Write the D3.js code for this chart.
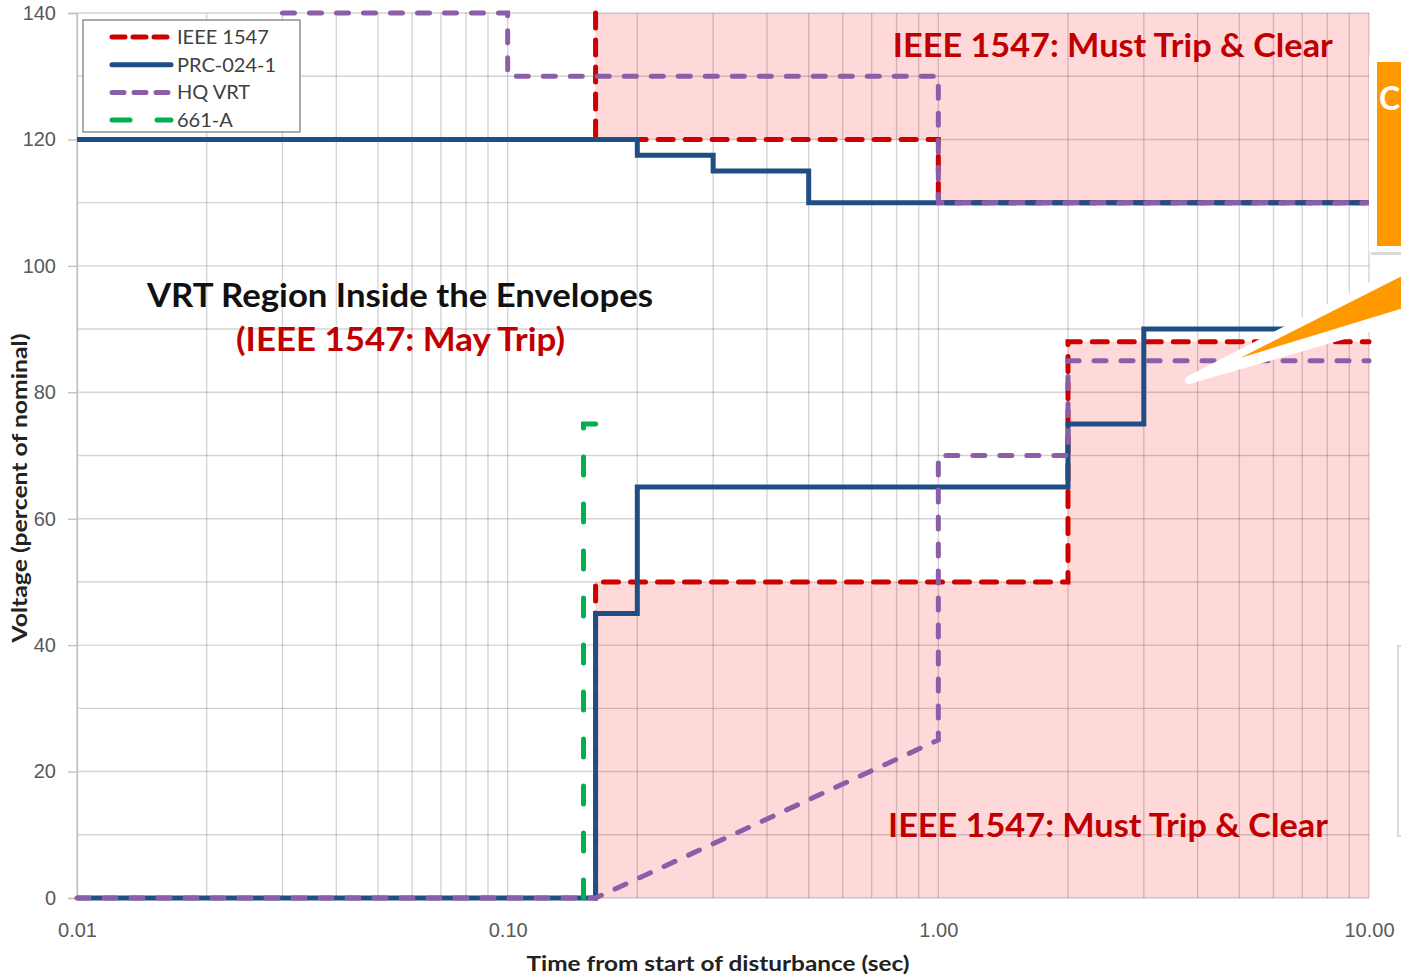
<!DOCTYPE html>
<html>
<head>
<meta charset="utf-8">
<script src="https://cdn.jsdelivr.net/npm/d3@7"></script>
<style>
  body { margin: 0; background: #fff; }
  svg text { font-family: Lato, "Open Sans", sans-serif; }
</style>
</head>
<body>
<div id="chart"></div>
<script>
// --- data (time in sec, voltage in % of nominal) ---
const seriesNames = ["IEEE 1547", "PRC-024-1", "HQ VRT", "661-A"];

const ieeeHighT = [0.16, 0.16, 1, 1, 10];
const ieeeHighV = [140, 120, 120, 110, 110];
const ieeeLowT = [0.16, 0.16, 2, 2, 10];
const ieeeLowV = [0, 50, 50, 88, 88];

const prcHighT = [0.01, 0.2, 0.2, 0.3, 0.3, 0.5, 0.5, 10];
const prcHighV = [120, 120, 117.5, 117.5, 115, 115, 110, 110];
const prcLowT = [0.01, 0.16, 0.16, 0.2, 0.2, 2, 2, 3, 3, 10];
const prcLowV = [0, 0, 45, 45, 65, 65, 75, 75, 90, 90];

const hqHighT = [0.03, 0.1, 0.1, 1, 1, 10];
const hqHighV = [140, 140, 130, 130, 110, 110];
const hqLowT = [0.01, 0.16, 1, 1, 2, 2, 10];
const hqLowV = [0, 0, 25, 70, 70, 85, 85];

const a661T = [0.15, 0.15, 0.16];
const a661V = [0, 75, 75];

const xTickValues = [0.01, 0.1, 1, 10];
const yTickValues = [0, 20, 40, 60, 80, 100, 120, 140];

const zip = (t, v) => t.map((d, i) => [d, v[i]]);

const width = 1401, height = 978;
const svg = d3.select("#chart").append("svg")
  .attr("width", width)
  .attr("height", height);

const x = d3.scaleLog().domain([0.01, 10]).range([77, 1369]);
const y = d3.scaleLinear().domain([0, 140]).range([898, 13]);

// shaded "must trip" zones from the IEEE 1547 envelope
const areaTop = d3.area().x(d => x(d[0])).y0(y(140)).y1(d => y(d[1]));
const areaBottom = d3.area().x(d => x(d[0])).y0(y(0)).y1(d => y(d[1]));
svg.append("path").attr("d", areaTop(zip(ieeeHighT, ieeeHighV))).attr("fill", "#ffd8da");
svg.append("path").attr("d", areaBottom(zip(ieeeLowT, ieeeLowV))).attr("fill", "#ffd8da");

// gridlines
const grid = svg.append("g").attr("stroke", "rgba(0,0,0,0.17)").attr("stroke-width", 1.4);
grid.selectAll("line.h")
  .data(d3.range(0, 141, 10))
  .join("line")
  .attr("x1", x(0.01)).attr("x2", x(10))
  .attr("y1", d => y(d)).attr("y2", d => y(d));
grid.selectAll("line.v")
  .data(x.ticks())
  .join("line")
  .attr("x1", d => x(d)).attr("x2", d => x(d))
  .attr("y1", y(0)).attr("y2", y(140));

// axes
const yAxis = svg.append("g")
  .attr("transform", `translate(${x(0.01)},0)`)
  .call(d3.axisLeft(y).tickValues(yTickValues).tickSize(9).tickPadding(12).tickFormat(d3.format("d")));
yAxis.select(".domain").attr("stroke", "#bfbfbf").attr("stroke-width", 1.3);
yAxis.selectAll(".tick line").attr("stroke", "#bfbfbf").attr("stroke-width", 1.3);
yAxis.selectAll("text").attr("fill", "#595959").style("font-size", "20px")
  .style("font-family", "'Liberation Sans', sans-serif");

const xAxis = svg.append("g")
  .attr("transform", `translate(0,${y(0)})`)
  .call(d3.axisBottom(x).tickValues(xTickValues).tickSize(0).tickPadding(25).tickFormat(d3.format(".2f")));
xAxis.select(".domain").remove();
xAxis.selectAll("text").attr("fill", "#595959").style("font-size", "20px")
  .style("font-family", "'Liberation Sans', sans-serif");

// series lines
const line = d3.line().x(d => x(d[0])).y(d => y(d[1]));
const styles = {
  "IEEE 1547": { color: "#cc0000", dash: "15 12", w: 5 },
  "PRC-024-1": { color: "#1f4e85", dash: null, w: 5 },
  "HQ VRT": { color: "#8a5fa8", dash: "12 15", w: 5 },
  "661-A": { color: "#00b050", dash: "18 29", w: 5 }
};
const seriesData = [
  ["IEEE 1547", [zip(ieeeHighT, ieeeHighV), zip(ieeeLowT, ieeeLowV)]],
  ["PRC-024-1", [zip(prcHighT, prcHighV), zip(prcLowT, prcLowV)]],
  ["HQ VRT", [zip(hqHighT, hqHighV), zip(hqLowT, hqLowV)]],
  ["661-A", [zip(a661T, a661V)]]
];
seriesData.forEach(([name, parts]) => {
  const s = styles[name];
  parts.forEach(p => {
    svg.append("path")
      .attr("d", line(p))
      .attr("fill", "none")
      .attr("stroke", s.color)
      .attr("stroke-width", s.w)
      .attr("stroke-linecap", s.dash ? "round" : "butt")
      .attr("stroke-linejoin", "miter")
      .attr("stroke-dasharray", s.dash);
  });
});

// legend
const legend = svg.append("g").attr("transform", "translate(83,20)");
legend.append("rect").attr("width", 217).attr("height", 112)
  .attr("fill", "#fff").attr("stroke", "#7f7f7f").attr("stroke-width", 1.3);
const legendDash = { "IEEE 1547": "13 8", "PRC-024-1": null, "HQ VRT": "12 10", "661-A": "18 27" };
seriesNames.forEach((name, i) => {
  const s = styles[name];
  const ly = 17 + i * 27.7;
  legend.append("line")
    .attr("x1", 29).attr("x2", 88).attr("y1", ly).attr("y2", ly)
    .attr("stroke", s.color).attr("stroke-width", 5)
    .attr("stroke-linecap", "round")
    .attr("stroke-dasharray", legendDash[name]);
  legend.append("text")
    .attr("x", 94).attr("y", ly).attr("dy", "0.35em")
    .attr("fill", "#404040").style("font-size", "20px")
    .text(name);
});

// annotations
const notes = [
  { text: "IEEE 1547: Must Trip & Clear", t: 0.784, v: 134.9, color: "#c00000", len: 440 },
  { text: "VRT Region Inside the Envelopes", t: 0.01454, v: 95.3, color: "#111", len: 506 },
  { text: "(IEEE 1547: May Trip)", t: 0.0234, v: 88.3, color: "#c00000", len: 329 },
  { text: "IEEE 1547: Must Trip & Clear", t: 0.764, v: 11.4, color: "#c00000", len: 440 }
];
svg.selectAll("text.note")
  .data(notes)
  .join("text")
  .attr("class", "note")
  .attr("x", d => x(d.t))
  .attr("y", d => y(d.v))
  .attr("dy", "0.35em")
  .attr("fill", d => d.color)
  .attr("textLength", d => d.len)
  .attr("lengthAdjust", "spacingAndGlyphs")
  .style("font-size", "33px")
  .style("font-weight", "bold")
  .text(d => d.text);

// axis titles
svg.append("text")
  .attr("x", 718).attr("y", 964).attr("dy", "0.35em")
  .attr("text-anchor", "middle").attr("fill", "#222")
  .style("font-size", "21px").style("font-weight", "bold")
  .attr("textLength", 383).attr("lengthAdjust", "spacingAndGlyphs")
  .text("Time from start of disturbance (sec)");
svg.append("text")
  .attr("transform", "translate(20,488) rotate(-90)")
  .attr("dy", "0.35em")
  .attr("text-anchor", "middle").attr("fill", "#222")
  .style("font-size", "20px").style("font-weight", "bold")
  .attr("textLength", 309).attr("lengthAdjust", "spacingAndGlyphs")
  .text("Voltage (percent of nominal)");

// callout pieces cut off at the right edge
const callout = svg.append("g");
callout.append("rect").attr("x", 1371).attr("y", 57).attr("width", 40).attr("height", 198)
  .attr("fill", "#d9d9d9");
callout.append("rect").attr("x", 1369).attr("y", 55).attr("width", 40).attr("height", 197)
  .attr("fill", "#fff");
callout.append("rect").attr("x", 1377).attr("y", 62).attr("width", 40).attr("height", 184)
  .attr("fill", "#ff9900");
callout.append("text").attr("x", 1379).attr("y", 110)
  .attr("fill", "#fff").style("font-size", "32px").style("font-weight", "bold").text("C");
callout.append("polygon")
  .attr("points", "1189,380 1410,266 1410,316")
  .attr("fill", "#fff").attr("stroke", "#fff").attr("stroke-width", 8).attr("stroke-linejoin", "round");
callout.append("polygon")
  .attr("points", "1240,358 1410,272 1410,306")
  .attr("fill", "#ff9900");
svg.append("rect").attr("x", 1398).attr("y", 646).attr("width", 20).attr("height", 190)
  .attr("fill", "#fff").attr("stroke", "#d0d0d0").attr("stroke-width", 1.5);
</script>
</body>
</html>
